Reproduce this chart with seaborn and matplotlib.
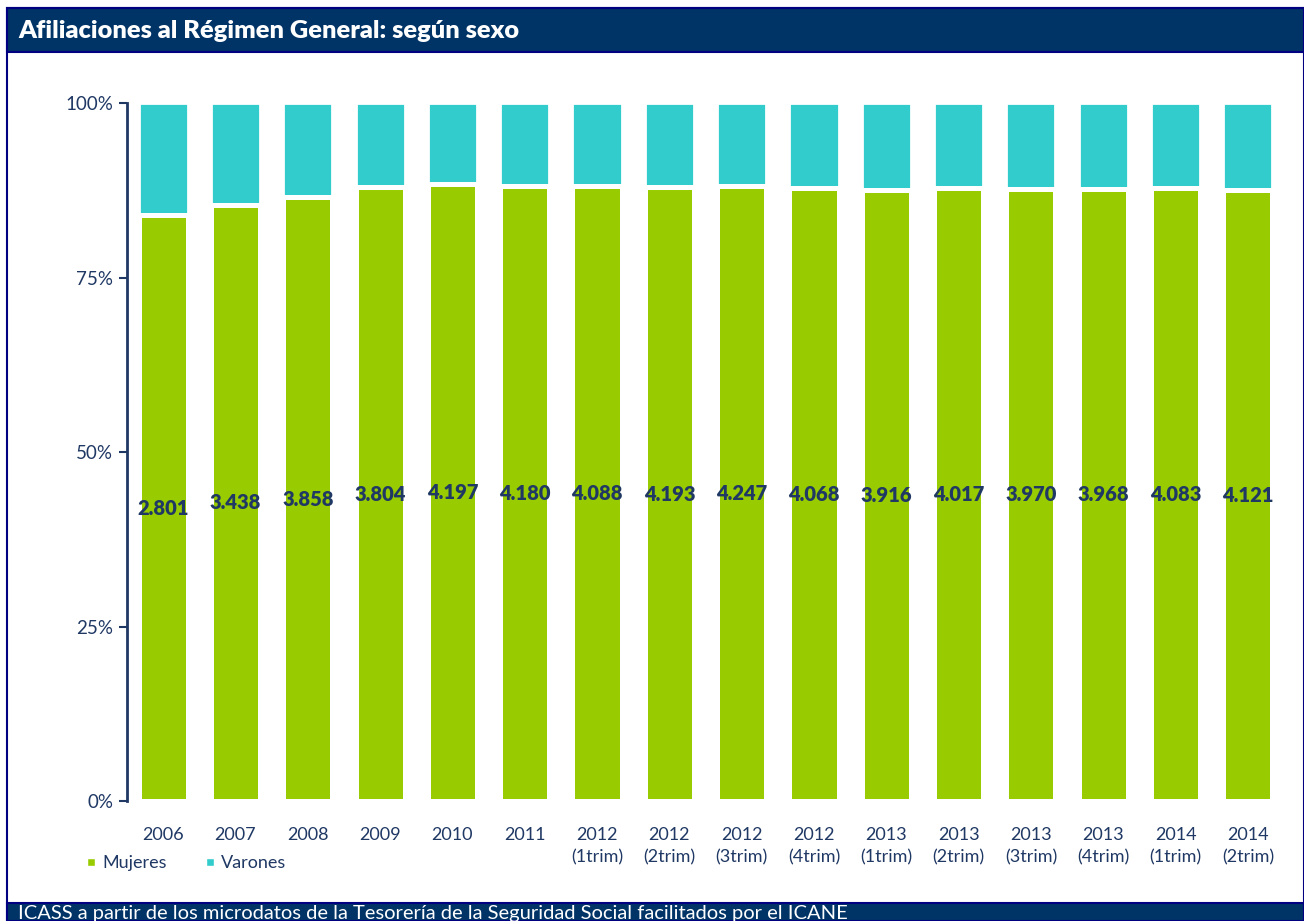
import matplotlib
matplotlib.use("Agg")
import matplotlib.pyplot as plt
import seaborn as sns
import pandas as pd
from matplotlib.patches import Rectangle
from matplotlib.lines import Line2D

categorias = ["2006", "2007", "2008", "2009", "2010", "2011",
              "2012\n(1trim)", "2012\n(2trim)", "2012\n(3trim)", "2012\n(4trim)",
              "2013\n(1trim)", "2013\n(2trim)", "2013\n(3trim)", "2013\n(4trim)",
              "2014\n(1trim)", "2014\n(2trim)"]
mujeres_pct = [83.9, 85.4, 86.5, 87.9, 88.35, 88.1, 88.05, 87.9, 88.15, 87.8,
               87.55, 87.8, 87.75, 87.7, 87.85, 87.6]
etiquetas = ["2.801", "3.438", "3.858", "3.804", "4.197", "4.180", "4.088", "4.193",
             "4.247", "4.068", "3.916", "4.017", "3.970", "3.968", "4.083", "4.121"]
yticks = [0, 25, 50, 75, 100]
ytick_labels = ["0%", "25%", "50%", "75%", "100%"]

GREEN = "#99CC00"
CYAN = "#33CCCC"
NAVY = "#003366"
TEXT = "#1F3864"
BORDER = "#000080"

sns.set_theme(style="white")
plt.rcParams["font.family"] = ["Lato", "DejaVu Sans"]

df = pd.DataFrame({"cat": categorias, "mujeres": mujeres_pct,
                   "total": [100.0] * len(categorias)})

fig = plt.figure(figsize=(13.04, 9.21), dpi=100)
fig.patch.set_facecolor("white")
ax = fig.add_axes([127/1304, 1 - 801/921, (1284 - 127)/1304, (801 - 103)/921])

sns.barplot(data=df, x="cat", y="total", color=CYAN, width=0.68,
            edgecolor="white", linewidth=2.0, saturation=1, ax=ax)
sns.barplot(data=df, x="cat", y="mujeres", color=GREEN, width=0.68,
            edgecolor="white", linewidth=3.6, saturation=1, ax=ax)

for i, (m, lab) in enumerate(zip(mujeres_pct, etiquetas)):
    ax.text(i, m / 2, lab, ha="center", va="center", fontsize=14.5,
            fontweight="heavy", color=TEXT)

ax.set_xlim(-0.5, len(categorias) - 0.5)
ax.set_ylim(0, 100)
ax.set_yticks(yticks)
ax.set_yticklabels(ytick_labels)
ax.set_xlabel("")
ax.set_ylabel("")
for s in ["top", "right", "bottom"]:
    ax.spines[s].set_visible(False)
ax.spines["left"].set_color("#1F3864")
ax.spines["left"].set_linewidth(2)
ax.tick_params(axis="y", which="major", left=True, length=6, width=1.5,
               color="#1F3864", labelsize=13.5, labelcolor=TEXT, pad=4)
ax.tick_params(axis="x", bottom=False, labelsize=13, labelcolor=TEXT, pad=13)
for t in ax.get_xticklabels():
    t.set_linespacing(1.45)
    t.set_verticalalignment("top")
ax.set_facecolor("white")

# legend
handles = [Line2D([0], [0], marker="s", color="w", markerfacecolor=GREEN,
                  markersize=6, label="Mujeres"),
           Line2D([0], [0], marker="s", color="w", markerfacecolor=CYAN,
                  markersize=6, label="Varones")]
fig.legend(handles=handles, loc="center left",
           bbox_to_anchor=(66/1304, 1 - 863/921), ncol=2, frameon=False,
           fontsize=13, handletextpad=0.1, columnspacing=1.9, handlelength=1.0,
           labelcolor=TEXT)

# frame and title bar
fig.patches.append(Rectangle((7/1304, 0), 1 - 7/1304, 1 - 8/921,
                             transform=fig.transFigure, fill=False,
                             edgecolor=BORDER, linewidth=1.5, zorder=0))
fig.patches.append(Rectangle((7/1304, 1 - 52/921), 1 - 7/1304, 44/921,
                             transform=fig.transFigure, facecolor=NAVY,
                             edgecolor=BORDER, linewidth=1.5, zorder=1))
fig.text(18/1304, 1 - 31/921, "Afiliaciones al Régimen General: según sexo",
         color="white", fontsize=18.3, fontweight="heavy", va="center", ha="left")

# footer bar
fig.patches.append(Rectangle((7/1304, 0), 1 - 7/1304, 18/921,
                             transform=fig.transFigure, facecolor=NAVY,
                             edgecolor=BORDER, linewidth=1.5, zorder=1))
fig.text(18/1304, 1 - 905/921,
         "ICASS a partir de los microdatos de la Tesorería de la Seguridad Social facilitados por el ICANE",
         color="white", fontsize=14.5, va="top", ha="left")

fig.savefig("out.png", dpi=100)
